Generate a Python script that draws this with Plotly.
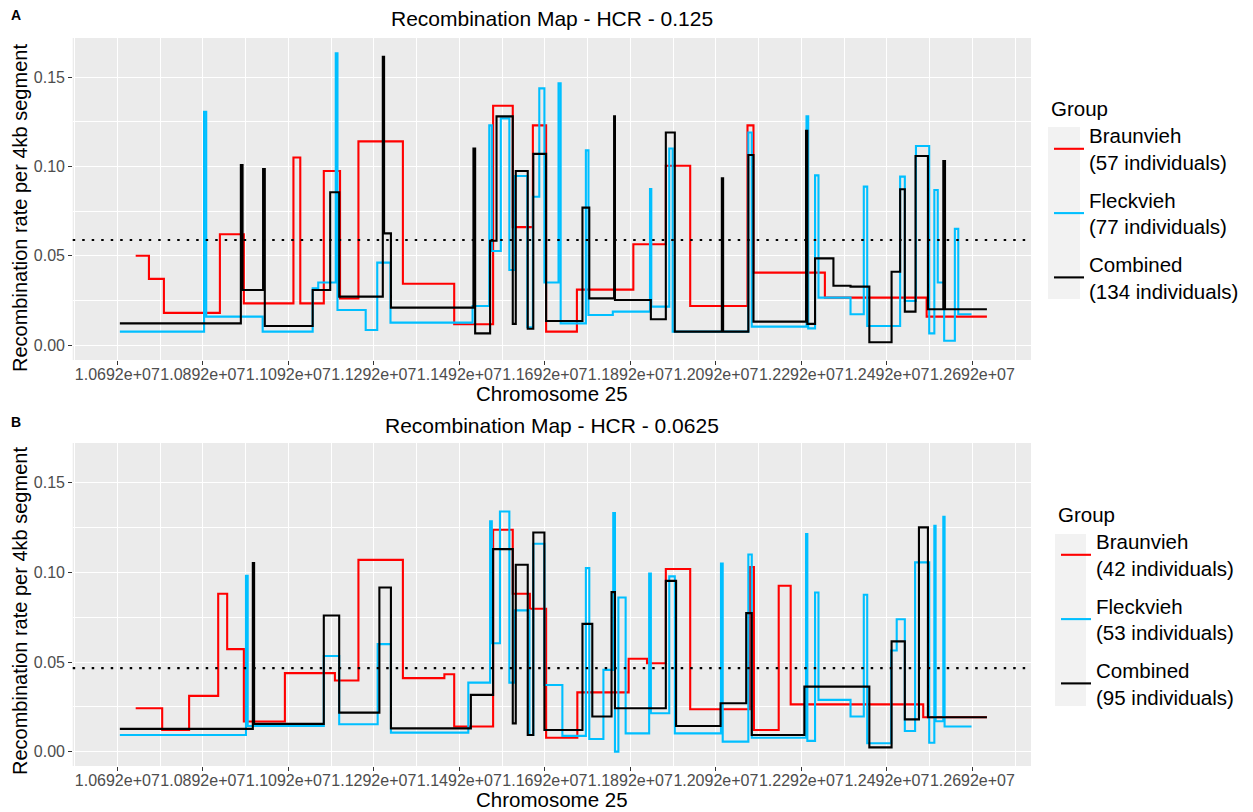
import plotly.graph_objects as go

# ---------------- data (positions in kb, rates per 4kb segment) ----------------
# Panel A : HCR 0.125
a_brown_pos = [10735, 10766, 10801, 10932, 10988, 11104, 11120, 11175, 11213, 11256, 11360, 11480, 11571,
               11617, 11664, 11695, 11767, 11899, 11975, 12032, 12166, 12180, 12347, 12585, 12726]
a_brown_rate = [0.050, 0.037, 0.018, 0.062, 0.0233, 0.105, 0.0233, 0.0974, 0.026, 0.114, 0.0343, 0.0116, 0.134,
                0.066, 0.123, 0.0075, 0.031, 0.0564, 0.1004, 0.0218, 0.123, 0.0405, 0.0265, 0.0159, 0.0159]

a_fleck_pos = [10698, 10895, 10900, 11032, 11149, 11162, 11203, 11207, 11273, 11300, 11331, 11523, 11562,
               11568, 11589, 11609, 11622, 11651, 11664, 11679, 11691, 11724, 11729, 11788, 11794, 11851,
               11938, 11941, 11983, 11991, 12168, 12176, 12304, 12308, 12324, 12332, 12407, 12438, 12446,
               12523, 12534, 12560, 12591, 12603, 12611, 12626, 12651, 12659, 12690]
a_fleck_rate = [0.0075, 0.1306, 0.0159, 0.0075, 0.0317, 0.035, 0.1633, 0.0196, 0.0084, 0.0461, 0.0125, 0.0218,
                0.123, 0.0526, 0.1269, 0.042, 0.0946, 0.0099, 0.083, 0.1437, 0.035, 0.1465, 0.0121, 0.109,
                0.0168, 0.0187, 0.0873, 0.0215, 0.110, 0.0075, 0.119, 0.0103, 0.128, 0.0093, 0.095, 0.0265,
                0.0172, 0.0887, 0.0106, 0.0943, 0.0246, 0.1114, 0.0065, 0.0868, 0.035, 0.0024, 0.065, 0.0172,
                0.0172]

a_comb_pos = [10698, 10981, 10985, 11033, 11037, 11149, 11190, 11211, 11313, 11316, 11332, 11525, 11529,
              11564, 11579, 11617, 11624, 11652, 11665, 11695, 11780, 11796, 11854, 11856, 11940, 11975,
              11996, 12106, 12109, 12168, 12180, 12303, 12306, 12324, 12367, 12407, 12451, 12503, 12523,
              12534, 12559, 12588, 12624, 12628, 12726]
a_comb_rate = [0.0121, 0.1008, 0.0308, 0.0985, 0.0106, 0.0308, 0.0855, 0.0271, 0.1614, 0.0625, 0.0209, 0.110,
               0.0065, 0.0584, 0.128, 0.0118, 0.0974, 0.0091, 0.107, 0.0134, 0.0769, 0.0261, 0.128, 0.0252,
               0.0144, 0.119, 0.0075, 0.0933, 0.0075, 0.1064, 0.0131, 0.12, 0.0118, 0.0485, 0.0332, 0.0327,
               0.0015, 0.041, 0.0872, 0.0187, 0.1058, 0.020, 0.103, 0.020, 0.020]
a_mean = 0.0588

# Panel B : HCR 0.0625
b_brown_pos = [10735, 10797, 10860, 10928, 10949, 10988, 11084, 11201, 11256, 11360, 11457, 11480, 11571,
               11617, 11657, 11695, 11768, 11888, 11931, 11975, 12032, 12172, 12181, 12239, 12267, 12577, 12726]
b_brown_rate = [0.0242, 0.0121, 0.0311, 0.0881, 0.0572, 0.0168, 0.0438, 0.0397, 0.107, 0.041, 0.0432, 0.014,
                0.1238, 0.0881, 0.0797, 0.0078, 0.0331, 0.0518, 0.0493, 0.1019, 0.0237, 0.103, 0.0121, 0.0926,
                0.0264, 0.0192, 0.0192]

b_fleck_pos = [10698, 10993, 10997, 11175, 11211, 11301, 11332, 11513, 11564, 11568, 11587, 11609, 11622,
               11656, 11665, 11691, 11733, 11788, 11796, 11829, 11852, 11856, 11864, 11881, 11936, 11940,
               11983, 11996, 12104, 12108, 12168, 12176, 12303, 12306, 12324, 12332, 12407, 12438, 12446,
               12502, 12515, 12534, 12558, 12591, 12603, 12606, 12624, 12627, 12690]
b_fleck_rate = [0.0093, 0.0981, 0.0143, 0.0534, 0.0153, 0.06, 0.0106, 0.0385, 0.1285, 0.0605, 0.134, 0.0385,
                0.0788, 0.0093, 0.116, 0.0372, 0.0088, 0.1024, 0.0071, 0.0456, 0.1331, 0.0, 0.086, 0.0102,
                0.0993, 0.0214, 0.0978, 0.0102, 0.105, 0.0056, 0.110, 0.0078, 0.1214, 0.006, 0.0888, 0.0289,
                0.0196, 0.0875, 0.0047, 0.0564, 0.0739, 0.0115, 0.1056, 0.005, 0.126, 0.017, 0.131, 0.014,
                0.014]

b_comb_pos = [10698, 11009, 11012, 11175, 11211, 11305, 11332, 11519, 11571, 11617, 11624, 11652, 11665,
              11691, 11780, 11803, 11848, 11856, 11975, 11999, 12103, 12163, 12176, 12299, 12451, 12503,
              12534, 12567, 12588, 12726]
b_comb_rate = [0.0127, 0.1052, 0.0155, 0.076, 0.0218, 0.0916, 0.013, 0.0317, 0.113, 0.0158, 0.1043, 0.0093,
               0.1223, 0.0121, 0.0713, 0.0196, 0.089, 0.0242, 0.0953, 0.0143, 0.027, 0.0773, 0.0093, 0.0363,
               0.0024, 0.0615, 0.018, 0.1251, 0.0192, 0.0192]
b_mean = 0.0466

groups = ["Braunvieh", "Fleckvieh", "Combined"]
a_counts = [57, 77, 134]
b_counts = [42, 53, 95]
colors = ["#FF0000", "#00BFFF", "#000000"]

x_tick_vals = [10692000, 10892000, 11092000, 11292000, 11492000, 11692000,
               11892000, 12092000, 12292000, 12492000, 12692000]
x_tick_text = ["1.0692e+07", "1.0892e+07", "1.1092e+07", "1.1292e+07", "1.1492e+07", "1.1692e+07",
               "1.1892e+07", "1.2092e+07", "1.2292e+07", "1.2492e+07", "1.2692e+07"]
x_minor_vals = [10592000, 10792000, 10992000, 11192000, 11392000, 11592000,
                11792000, 11992000, 12192000, 12392000, 12592000, 12792000]
y_tick_vals = [0.0, 0.05, 0.10, 0.15]
y_tick_text = ["0.00", "0.05", "0.10", "0.15"]
y_minor_vals = [0.025, 0.075, 0.125]

# ---------------- figure ----------------
W, H = 1253, 812
FONT = "Liberation Sans, Arial, sans-serif"
fig = go.Figure()

panels = [
    ("A", [a_brown_pos, a_fleck_pos, a_comb_pos], [a_brown_rate, a_fleck_rate, a_comb_rate], a_counts, "x", "y", "legend"),
    ("B", [b_brown_pos, b_fleck_pos, b_comb_pos], [b_brown_rate, b_fleck_rate, b_comb_rate], b_counts, "x2", "y2", "legend2"),
]
for tag, poss, rates, counts, xa, ya, lg in panels:
    for g, pos, rate, n, col in zip(groups, poss, rates, counts, colors):
        fig.add_trace(go.Scatter(
            x=[p * 1000 for p in pos], y=rate, mode="lines", line_shape="hv",
            line=dict(color=col, width=2.1),
            name=f"{g}<br>({n} individuals)",
            legend=lg, legendgroup=tag + g, xaxis=xa, yaxis=ya,
            hoverinfo="skip"))

x_dom = [72.7 / W, 1031 / W]
yA = [1 - 360 / H, 1 - 38 / H]
yB = [1 - 766 / H, 1 - 443 / H]
x_range = [10587700, 12829100]

axis_common = dict(
    showline=False, zeroline=False, showgrid=True, gridcolor="white", gridwidth=1.1,
    ticks="outside", ticklen=3.5, tickwidth=1, tickcolor="#333333", automargin=False,
    tickfont=dict(family=FONT, size=16, color="#4D4D4D"),
)
xa_common = dict(axis_common, tickmode="array", tickvals=x_tick_vals, ticktext=x_tick_text,
                 tickangle=0, range=x_range, domain=x_dom, ticklabelstandoff=-4,
                 minor=dict(tickmode="array", tickvals=x_minor_vals, showgrid=True,
                            gridcolor="white", gridwidth=0.55, ticks=""))
ya_common = dict(axis_common, tickmode="array", tickvals=y_tick_vals, ticktext=y_tick_text,
                 minor=dict(tickmode="array", tickvals=y_minor_vals, showgrid=True,
                            gridcolor="white", gridwidth=0.55, ticks=""))

legend_common = dict(xanchor="left", yanchor="top", font=dict(size=20.5, family=FONT),
                     tracegroupgap=8, bgcolor="rgba(0,0,0,0)", itemwidth=30, valign="middle")

fig.update_layout(
    width=W, height=H, margin=dict(l=0, r=0, t=0, b=0, autoexpand=False),
    paper_bgcolor="white", plot_bgcolor="#EBEBEB",
    font=dict(family=FONT, color="black"),
    xaxis=dict(xa_common, anchor="y"),
    yaxis=dict(ya_common, domain=yA, range=[-0.0084, 0.1719], anchor="x"),
    xaxis2=dict(xa_common, anchor="y2"),
    yaxis2=dict(ya_common, domain=yB, range=[-0.008, 0.1722], anchor="x2"),
    legend=dict(legend_common, title=dict(text="Group", font=dict(size=20.5, family=FONT)),
                x=1049 / W, y=1 - 89 / H),
    legend2=dict(legend_common, title=dict(text="Group", font=dict(size=20.5, family=FONT)),
                 x=1056 / W, y=1 - 495 / H),
    showlegend=True,
)

# mean (dotted) lines
for ya_name, xa_name, m in [("y", "x", a_mean), ("y2", "x2", b_mean)]:
    fig.add_shape(type="line", xref=f"{xa_name} domain", yref=ya_name, x0=0, x1=1, y0=m, y1=m,
                  line=dict(color="black", width=2.2, dash="2.5px,7px"), layer="above")

# legend key backgrounds
for x0, x1, y0, y1 in [(1048, 1080, 127, 299), (1055, 1086, 534, 706)]:
    fig.add_shape(type="rect", xref="paper", yref="paper", x0=x0 / W, x1=x1 / W,
                  y0=1 - y1 / H, y1=1 - y0 / H, fillcolor="#F2F2F2", line=dict(width=0), layer="below")

# titles and labels
ann = []
cx = (x_dom[0] + x_dom[1]) / 2
for txt, ycen in [("Recombination Map - HCR - 0.125", 18), ("Recombination Map - HCR - 0.0625", 425)]:
    ann.append(dict(text=txt, x=cx, y=1 - ycen / H, xref="paper", yref="paper", showarrow=False,
                    xanchor="center", yanchor="middle", font=dict(size=21, family=FONT, color="black")))
for txt, ycen in [("Chromosome 25", 393), ("Chromosome 25", 799)]:
    ann.append(dict(text=txt, x=cx, y=1 - ycen / H, xref="paper", yref="paper", showarrow=False,
                    xanchor="center", yanchor="middle", font=dict(size=20.5, family=FONT, color="black")))
for ycen in [208, 611]:
    ann.append(dict(text="Recombination rate per 4kb segment", x=20 / W, y=1 - ycen / H, xref="paper",
                    yref="paper", showarrow=False, textangle=-90, xanchor="center", yanchor="middle",
                    font=dict(size=20, family=FONT, color="black")))
for txt, ycen in [("A", 15), ("B", 422)]:
    ann.append(dict(text=f"<b>{txt}</b>", x=16 / W, y=1 - ycen / H, xref="paper", yref="paper",
                    showarrow=False, xanchor="center", yanchor="middle",
                    font=dict(size=14, family=FONT, color="black")))
fig.update_layout(annotations=ann)

fig.write_html("out.html")
